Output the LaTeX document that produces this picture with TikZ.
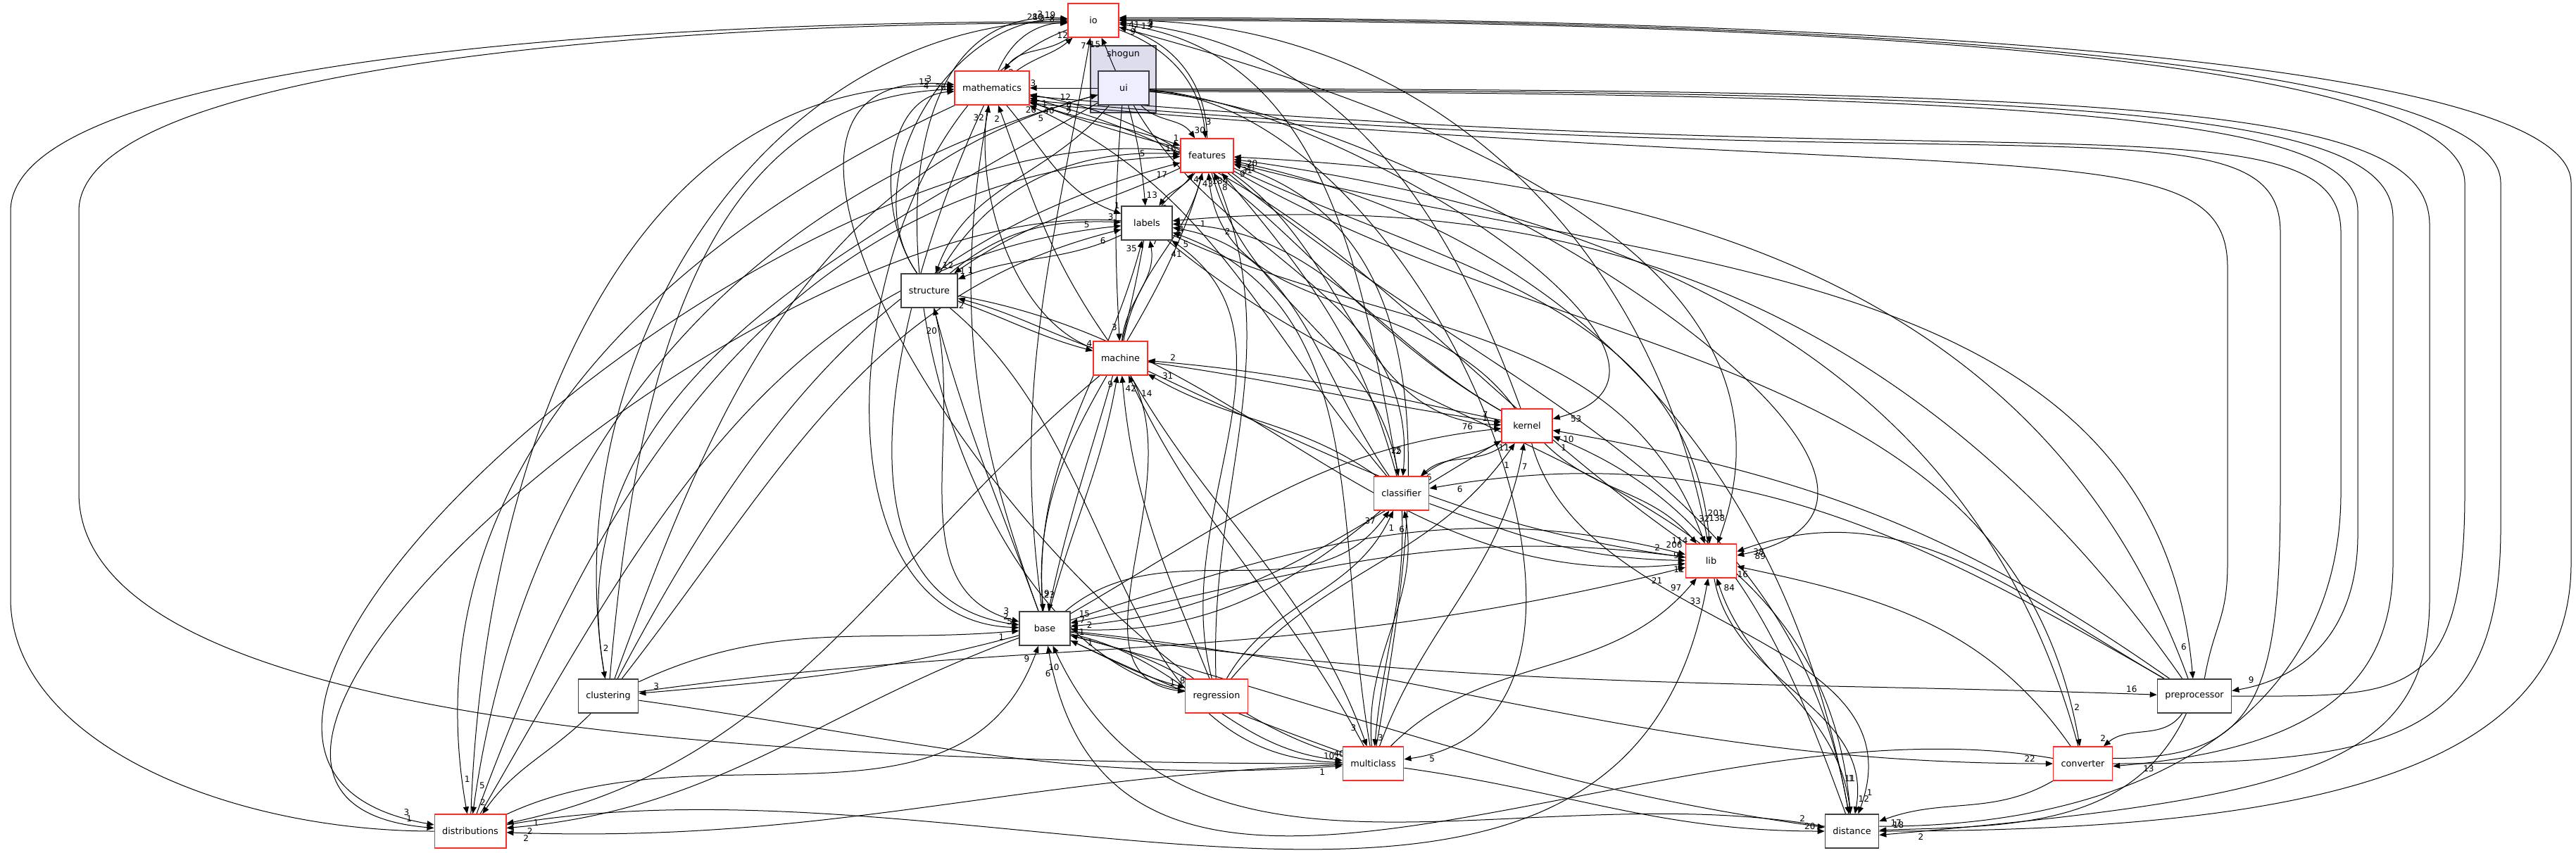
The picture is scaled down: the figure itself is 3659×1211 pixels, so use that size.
\documentclass[tikz,border=0pt]{standalone}
\usepackage{fontspec}
\setmainfont{DejaVu Sans}
\usetikzlibrary{arrows.meta,positioning}
\pgfdeclarelayer{cl}
\pgfdeclarelayer{bg}
\pgfsetlayers{cl,bg,main}
\definecolor{dxred}{HTML}{FF2A2A}
\definecolor{dxgray}{HTML}{404040}
\definecolor{uifill}{HTML}{EEEEFF}
\definecolor{clfill}{HTML}{DDDDEE}

\begin{document}
\begin{tikzpicture}[
  x=0.25pt, y=0.25pt,
  font=\fontsize{3.2}{3.8}\selectfont,
  dir/.style={draw=dxgray, line width=0.35pt, fill=white, minimum width=18pt, minimum height=12pt, inner xsep=2.75pt},
  reddir/.style={dir, draw=dxred},
  focus/.style={dir, fill=uifill},
  grp/.style={draw=dxgray, line width=0.4pt, fill=clfill, minimum width=23.25pt, minimum height=23.75pt},
  dep/.style={-{Triangle[length=2.5pt,width=2pt]}, line width=0.25pt},
  num/.style={font=\fontsize{3}{3.5}\selectfont, inner sep=0.5pt, pos=0.95, auto}
]
\useasboundingbox (0,0) rectangle (3659,-1211);
\begin{pgfonlayer}{cl}
\node[grp] (shogun) at (1595.5,-112.5) {};
\end{pgfonlayer}
\node[anchor=north, inner sep=1.5pt] (shogunlbl) at (shogun.north) {shogun};
\node[reddir] (io) at (1553,-29) {io};
\node[reddir] (math) at (1409,-125) {mathematics};
\node[focus] (ui) at (1596,-125) {ui};
\node[reddir] (feat) at (1714.5,-221) {features};
\node[dir] (labels) at (1629,-317) {labels};
\node[dir] (struct) at (1320,-413) {structure};
\node[reddir] (machine) at (1591.5,-509) {machine};
\node[reddir] (kernel) at (2169,-605) {kernel};
\node[reddir] (classif) at (1990.5,-701) {classifier};
\node[reddir] (lib) at (2430.5,-797) {lib};
\node[dir] (base) at (1484,-893) {base};
\node[dir] (clust) at (864,-989) {clustering};
\node[reddir] (regr) at (1728,-989) {regression};
\node[dir] (preproc) at (3117,-989) {preprocessor};
\node[reddir] (multi) at (1950.5,-1085) {multiclass};
\node[reddir] (conv) at (2958.5,-1085) {converter};
\node[reddir] (distr) at (668,-1181) {distributions};
\node[dir] (dist) at (2630.5,-1181) {distance};
\begin{pgfonlayer}{bg}
\draw[dep] (math) to[out=35,in=-140] node[num]{12} (io);
\draw[dep] (ui) to[out=115,in=-65] node[num]{15} (io);
\draw[dep] (base) to[out=98,in=-100] node[num,pos=.98]{7} (io);
\draw[dep] (feat) to[out=90,in=-15] node[num,swap]{41} (io);
\draw[dep] (struct) to[out=125,in=178] node[num,pos=.97]{19} (io);
\draw[dep] (clust) to[out=100,in=181] node[num,pos=.97]{28} (io);
\draw[dep] (machine) to[out=160,in=184] node[num,pos=.97]{8} (io);
\draw[dep] (regr) to[out=170,in=176] node[num,pos=.97]{2} (io);
\draw[dep] (distr.west) to[out=180,in=-90,out distance=75pt,in distance=50pt] (15,-850) -- (15,-300) to[out=90,in=180,out distance=50pt,in distance=175pt] node[num,pos=.98]{10} (io.183);
\draw[dep] (multi.west) to[out=180,in=-90,out distance=250pt,in distance=75pt] (112,-700) -- (112,-300) to[out=90,in=180,out distance=50pt,in distance=150pt] node[num,pos=.98]{3} (io.186);
\draw[dep] (lib) to[out=100,in=0] node[num,pos=.97]{13} (io);
\draw[dep] (kernel) to[out=110,in=-5] node[num,pos=.97]{3} (io);
\draw[dep] (classif) to[out=100,in=-8] node[num,pos=.97]{9} (io);
\draw[dep] (dist.east) to[out=0,in=-90,out distance=150pt,in distance=75pt] (3652,-800) -- (3652,-260) to[out=90,in=0,out distance=45pt,in distance=250pt] node[num,pos=.985]{5} (io.6);
\draw[dep] (conv.east) to[out=0,in=-90,out distance=100pt,in distance=75pt] (3552,-750) -- (3552,-260) to[out=90,in=0,out distance=45pt,in distance=250pt] node[num,pos=.985]{2} (io.3);
\draw[dep] (preproc.east) to[out=0,in=-90,out distance=60pt,in distance=75pt] (3501,-700) -- (3501,-260) to[out=90,in=0,out distance=45pt,in distance=250pt] node[num,pos=.985]{4} (io.0);
\draw[dep] (io) to[out=-145,in=55] node[num]{2} (math);
\draw[dep] (ui) to node[num,swap]{3} (math);
\draw[dep] (base) to[out=110,in=-100] node[num,pos=.97]{32} (math);
\draw[dep] (machine) to[out=125,in=-70] node[num,pos=.97]{2} (math);
\draw[dep] (struct) to[out=125,in=185] node[num,pos=.97]{26} (math);
\draw[dep] (clust) to[out=85,in=182] node[num,pos=.97]{4} (math);
\draw[dep] (distr) to[out=88,in=178] node[num,pos=.97]{15} (math);
\draw[dep] (multi) to[out=165,in=175] node[num,pos=.97]{3} (math);
\draw[dep] (feat) to[out=165,in=-20] node[num]{20} (math);
\draw[dep] (lib) to[out=145,in=-15] node[num,pos=.97]{40} (math);
\draw[dep] (kernel) to[out=150,in=-10] node[num,pos=.97]{1} (math);
\draw[dep] (classif) to[out=130,in=-25] node[num,pos=.97]{5} (math);
\draw[dep] (dist.10) to[out=0,in=-90,out distance=100pt,in distance=75pt] (3325,-700) -- (3325,-330) to[out=90,in=-5,out distance=50pt,in distance=350pt] node[num,pos=.985]{6} (math.-12);
\draw[dep] (conv.10) to[out=0,in=-90,out distance=50pt,in distance=75pt] (3239,-700) -- (3239,-330) to[out=90,in=-5,out distance=50pt,in distance=350pt] node[num,pos=.985]{4} (math.-18);
\draw[dep] (preproc.60) to[out=80,in=-90,out distance=20pt,in distance=20pt] (3164,-800) -- (3164,-380) to[out=90,in=-5,out distance=50pt,in distance=350pt] node[num,pos=.985]{2} (math.-22);
\draw[dep] (io) to[out=-20,in=95] node[num,pos=.93]{3} (feat);
\draw[dep] (ui) to[out=-45,in=125] node[num]{30} (feat);
\draw[dep] (math) to[out=-20,in=160] node[num]{1} (feat);
\draw[dep] (struct) to[out=60,in=177] node[num,pos=.97]{16} (feat);
\draw[dep] (distr) to[out=70,in=182] node[num,pos=.97]{5} (feat);
\draw[dep] (clust) to[out=62,in=195] node[num,pos=.97,swap]{17} (feat);
\draw[dep] (labels) to[out=50,in=-128] node[num,swap]{4} (feat);
\draw[dep] (machine) to[out=80,in=-105] node[num,swap,pos=.97]{43} (feat);
\draw[dep] (kernel) to[out=125,in=-85] node[num,swap,pos=.97]{184} (feat);
\draw[dep] (classif) to[out=105,in=-50] node[num,pos=.97]{8} (feat);
\draw[dep] (preproc) to[out=110,in=-3] node[num,pos=.98]{20} (feat);
\draw[dep] (conv) to[out=105,in=-8] node[num,pos=.98]{21} (feat);
\draw[dep] (dist) to[out=100,in=-12] node[num,pos=.98]{31} (feat);
\draw[dep] (multi) to[out=80,in=-18] node[num,pos=.98]{9} (feat);
\draw[dep] (regr) to[out=92,in=-68] node[num,pos=.9]{2} (feat);
\draw[dep] (ui) to[out=-75,in=95] node[num]{13} (labels);
\draw[dep] (feat) to[out=-125,in=55] node[num]{2} (labels);
\draw[dep] (math) to[out=-50,in=160] node[num]{1} (labels);
\draw[dep] (struct) to[out=40,in=178] node[num]{3} (labels);
\draw[dep] (distr) to[out=60,in=186] node[num,pos=.97]{5} (labels);
\draw[dep] (clust) to[out=52,in=194] node[num,pos=.97,swap]{6} (labels);
\draw[dep] (base) to[out=95,in=-105] node[num,pos=.97]{35} (labels);
\draw[dep] (machine) to[out=85,in=-80] node[num,swap]{7} (labels);
\draw[dep] (kernel) to[out=150,in=-2] node[num,pos=.97]{4} (labels);
\draw[dep] (classif) to[out=125,in=-10] node[num,pos=.97]{2} (labels);
\draw[dep] (multi) to[out=100,in=-20] node[num,pos=.97]{5} (labels);
\draw[dep] (regr) to[out=105,in=-35] node[num,pos=.97]{41} (labels);
\draw[dep] (preproc) to[out=125,in=5] node[num,pos=.98]{1} (labels);
\draw[dep] (ui) to[out=-130,in=70] node[num]{12} (struct);
\draw[dep] (feat) to[out=-155,in=35] node[num]{1} (struct);
\draw[dep] (labels) to[out=-155,in=22] node[num,swap]{1} (struct);
\draw[dep] (machine) to[out=160,in=-15] node[num]{2} (struct);
\draw[dep] (base) to[out=110,in=-75] node[num]{20} (struct);
\draw[dep] (ui) to[out=-95,in=93] node[num,swap]{3} (machine);
\draw[dep] (struct) to[out=-20,in=165] node[num]{4} (machine);
\draw[dep] (base) to[out=75,in=-100] node[num]{9} (machine);
\draw[dep] (regr) to[out=112,in=-85] node[num,swap]{42} (machine);
\draw[dep] (multi) to[out=118,in=-65] node[num,swap]{14} (machine);
\draw[dep] (classif) to[out=145,in=-30] node[num,swap]{31} (machine);
\draw[dep] (kernel) to[out=168,in=-5] node[num,swap]{2} (machine);
\draw[dep] (machine) to[out=-8,in=172] node[num]{7} (kernel);
\draw[dep] (feat) to[out=-35,in=178] node[num]{1} (kernel);
\draw[dep] (base) to[out=30,in=186] node[num]{76} (kernel);
\draw[dep] (classif) to[out=40,in=-150] node[num,swap]{11} (kernel);
\draw[dep] (multi) to[out=70,in=-100] node[num,swap]{7} (kernel);
\draw[dep] (regr) to[out=50,in=-125] node[num,swap]{1} (kernel);
\draw[dep] (ui.-4) to[out=-5,in=15] node[num,pos=.97]{53} (kernel);
\draw[dep] (preproc) to[out=145,in=-10] node[num,pos=.97]{10} (kernel);
\draw[dep] (dist) to[out=110,in=-22] node[num,pos=.97]{1} (kernel);
\draw[dep] (ui) to[out=-60,in=85] node[num,swap]{25} (classif);
\draw[dep] (feat) to[out=-75,in=100] node[num]{2} (classif);
\draw[dep] (kernel) to[out=-140,in=42] node[num]{6} (classif);
\draw[dep] (preproc) to[out=150,in=10] node[num,pos=.97]{6} (classif);
\draw[dep] (multi) to[out=95,in=-80] node[num]{6} (classif);
\draw[dep] (base) to[out=40,in=-125] node[num]{37} (classif);
\draw[dep] (regr) to[out=60,in=-115] node[num,swap]{1} (classif);
\draw[dep] (kernel) to[out=-45,in=130] node[num,swap]{114} (lib);
\draw[dep] (labels) to[out=-25,in=110] node[num,pos=.97]{32} (lib);
\draw[dep] (feat) to[out=-25,in=95] node[num,pos=.97]{138} (lib);
\draw[dep] (io) to[out=-15,in=70] node[num,swap,pos=.97]{201} (lib);
\draw[dep] (ui.-8) to[out=-5,in=12] node[num,pos=.98]{89} (lib);
\draw[dep] (preproc) to[out=150,in=20] node[num,pos=.97]{38} (lib);
\draw[dep] (conv) to[out=125,in=-12] node[num,pos=.97]{16} (lib);
\draw[dep] (dist) to[out=95,in=-72] node[num,swap]{84} (lib);
\draw[dep] (base) to[out=18,in=166] node[num,pos=.97]{206} (lib);
\draw[dep] (machine) to[out=-25,in=172] node[num,pos=.95]{2} (lib);
\draw[dep] (classif) to[out=-20,in=179] node[num,pos=.97]{9} (lib);
\draw[dep] (struct) to[out=-10,in=186] node[num,pos=.985,swap]{11} (lib);
\draw[dep] (clust) to[out=8,in=194] node[num,pos=.97,swap]{21} (lib);
\draw[dep] (multi) to[out=45,in=-130] node[num]{97} (lib);
\draw[dep] (distr) to[out=10,in=-100] node[num,pos=.98]{33} (lib);
\draw[dep] (feat) to[out=-105,in=95] node[num,pos=.97]{23} (base);
\draw[dep] (labels) to[out=-100,in=78] node[num,swap,pos=.97]{9} (base);
\draw[dep] (struct) to[out=-75,in=165] node[num]{3} (base);
\draw[dep] (math) to[out=-115,in=172] node[num,pos=.97]{2} (base);
\draw[dep] (io) to[out=-160,in=178] node[num,pos=.98]{5} (base);
\draw[dep] (clust) to[out=25,in=185] node[num,swap]{1} (base);
\draw[dep] (distr) to[out=25,in=-110] node[num,pos=.97]{9} (base);
\draw[dep] (lib) to[out=172,in=12] node[num,swap,pos=.97]{15} (base);
\draw[dep] (kernel) to[out=-150,in=5] node[num,swap,pos=.97]{7} (base);
\draw[dep] (classif) to[out=-140,in=-2] node[num,swap]{2} (base);
\draw[dep] (regr) to[out=150,in=-15] node[num,swap]{1} (base);
\draw[dep] (multi) to[out=160,in=-25] node[num,swap]{1} (base);
\draw[dep] (dist) to[out=170,in=-65] node[num,pos=.98]{10} (base);
\draw[dep] (conv) to[out=170,in=-80] node[num,pos=.98]{6} (base);
\draw[dep] (ui) to[out=-150,in=100] node[num,pos=.97]{2} (clust);
\draw[dep] (base) to[out=-165,in=5] node[num,swap]{3} (clust);
\draw[dep] (clust) to[out=70,in=195] node[num,pos=.97]{12} (ui);
\draw[dep] (base) to[out=-25,in=165] node[num]{8} (regr);
\draw[dep] (machine) to[out=-60,in=172] node[num]{1} (regr);
\draw[dep] (feat) to[out=-15,in=95] node[num,swap,pos=.97]{6} (preproc);
\draw[dep] (base) to[out=-8,in=178] node[num,pos=.98]{16} (preproc);
\draw[dep] (ui.-8) to[out=0,in=90,out distance=350pt,in distance=30pt] (3349,-300) -- (3349,-760) to[out=-90,in=10,out distance=30pt,in distance=30pt] node[num,swap,pos=.9]{9} (preproc.8);
\draw[dep] (machine) to[out=-60,in=110] node[num,swap]{3} (multi);
\draw[dep] (classif) to[out=-88,in=85] node[num]{3} (multi);
\draw[dep] (base) to[out=-12,in=174] node[num,pos=.97]{40} (multi);
\draw[dep] (struct) to[out=-40,in=178] node[num,pos=.97]{10} (multi);
\draw[dep] (clust) to[out=-8,in=184] node[num,pos=.97,swap]{1} (multi);
\draw[dep] (ui.-6) to[out=-3,in=8] node[num,pos=.97]{5} (multi);
\draw[dep] (feat) to[out=-30,in=100] node[num,pos=.97]{2} (conv);
\draw[dep] (preproc) to[out=-125,in=40] node[num,swap]{2} (conv);
\draw[dep] (base) to[out=-6,in=180] node[num,pos=.98]{22} (conv);
\draw[dep] (ui.-5) to[out=0,in=90,out distance=360pt,in distance=35pt] (3399,-310) -- (3399,-800) to[out=-90,in=5,out distance=45pt,in distance=70pt] node[num,pos=.95]{13} (conv.-5);
\draw[dep] (math) to[out=-155,in=100] node[num,pos=.97]{1} (distr);
\draw[dep] (ui) to[out=-165,in=82] node[num,pos=.97]{5} (distr);
\draw[dep] (clust) to[out=-135,in=55] node[num,swap]{2} (distr);
\draw[dep] (feat) to[out=172,in=170] node[num,pos=.97]{3} (distr);
\draw[dep] (labels) to[out=175,in=175] node[num,pos=.97]{1} (distr);
\draw[dep] (base) to[out=-160,in=5] node[num,pos=.97]{2} (distr);
\draw[dep] (multi) to[out=182,in=-2] node[num,pos=.98]{2} (distr);
\draw[dep] (machine) to[out=-140,in=12] node[num,pos=.97]{1} (distr);
\draw[dep] (feat) to[out=-40,in=100] node[num,pos=.97]{11} (dist);
\draw[dep] (labels) to[out=-40,in=95] node[num,pos=.97]{1} (dist);
\draw[dep] (lib) to[out=-80,in=80] node[num]{12} (dist);
\draw[dep] (kernel) to[out=-75,in=70] node[num]{1} (dist);
\draw[dep] (base) to[out=-15,in=172] node[num,pos=.97]{2} (dist);
\draw[dep] (multi) to[out=-8,in=180] node[num,pos=.97]{20} (dist);
\draw[dep] (conv) to[out=-150,in=20] node[num]{17} (dist);
\draw[dep] (preproc) to[out=-115,in=2] node[num,swap]{18} (dist);
\draw[dep] (ui.-2) to[out=0,in=90,out distance=370pt,in distance=40pt] (3451,-320) -- (3451,-850) to[out=-90,in=5,out distance=60pt,in distance=150pt] node[num,pos=.97]{2} (dist.-8);
\end{pgfonlayer}
\end{tikzpicture}
\end{document}
